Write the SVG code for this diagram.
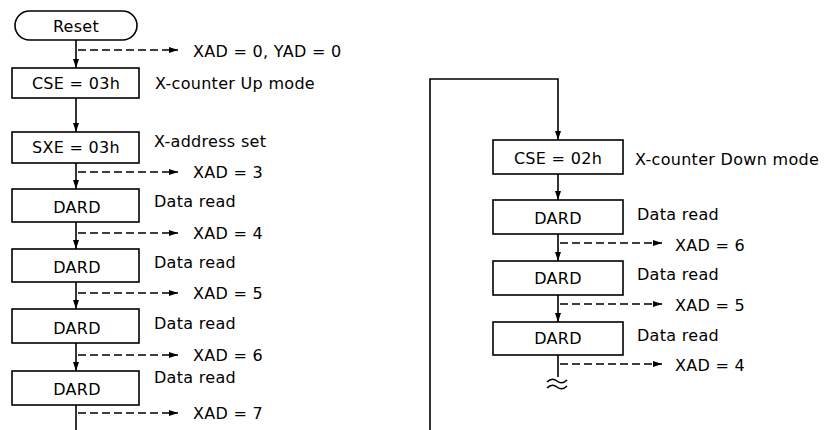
<svg xmlns="http://www.w3.org/2000/svg" width="825" height="430" viewBox="0 0 825 430">
<style>
  .box { fill: #fff; stroke: #000; stroke-width: 1.6; }
  .t { font-family: "DejaVu Sans", "Liberation Sans", sans-serif; font-size: 16px; letter-spacing: 0.3px; fill: #000; }
  .c { text-anchor: middle; }
  .ln { stroke: #000; stroke-width: 1.6; fill: none; }
  .da { stroke: #000; stroke-width: 1.4; fill: none; stroke-dasharray: 8 4; }
</style>
<defs>
  <marker id="ah" markerUnits="userSpaceOnUse" markerWidth="12" markerHeight="10" refX="9" refY="4" orient="auto">
    <path d="M0,1 L9,4 L0,7 Z" fill="#000"/>
  </marker>
</defs>
<rect width="825" height="430" fill="#fff"/>

<g id="connectors">
  <line class="ln" x1="76" y1="40" x2="76" y2="68" marker-end="url(#ah)"/>
  <line class="ln" x1="76" y1="98" x2="76" y2="132" marker-end="url(#ah)"/>
  <line class="ln" x1="76" y1="163" x2="76" y2="189" marker-end="url(#ah)"/>
  <line class="ln" x1="76" y1="222" x2="76" y2="249" marker-end="url(#ah)"/>
  <line class="ln" x1="76" y1="282" x2="76" y2="309" marker-end="url(#ah)"/>
  <line class="ln" x1="76" y1="343" x2="76" y2="371" marker-end="url(#ah)"/>
  <line class="ln" x1="76" y1="405" x2="76" y2="430"/>
  <line class="da" x1="78" y1="50" x2="178" y2="50" marker-end="url(#ah)"/>
  <line class="da" x1="78" y1="172" x2="178" y2="172" marker-end="url(#ah)"/>
  <line class="da" x1="78" y1="233" x2="178" y2="233" marker-end="url(#ah)"/>
  <line class="da" x1="78" y1="293" x2="178" y2="293" marker-end="url(#ah)"/>
  <line class="da" x1="78" y1="355" x2="178" y2="355" marker-end="url(#ah)"/>
  <line class="da" x1="78" y1="413" x2="178" y2="413" marker-end="url(#ah)"/>

  <path class="ln" d="M430,430 L430,79 L558,79 L558,140" marker-end="url(#ah)"/>
  <line class="ln" x1="558" y1="174" x2="558" y2="200" marker-end="url(#ah)"/>
  <line class="ln" x1="558" y1="234" x2="558" y2="261" marker-end="url(#ah)"/>
  <line class="ln" x1="558" y1="295" x2="558" y2="322" marker-end="url(#ah)"/>
  <line class="ln" x1="558" y1="355" x2="558" y2="377"/>
  <path class="ln" d="M547,382 Q552,377 557,381 T567,380" stroke-width="1.5"/>
  <path class="ln" d="M547,388 Q552,383 557,387 T567,386" stroke-width="1.5"/>
  <line class="da" x1="560" y1="243" x2="662" y2="243" marker-end="url(#ah)"/>
  <line class="da" x1="560" y1="304" x2="662" y2="304" marker-end="url(#ah)"/>
  <line class="da" x1="560" y1="364" x2="662" y2="364" marker-end="url(#ah)"/>
</g>

<g id="reset">
  <rect class="box" x="15" y="11" width="122" height="29" rx="14.5"/>
  <text class="t c" x="76" y="32">Reset</text>
</g>
<text class="t" x="193" y="57">XAD = 0, YAD = 0</text>

<g id="cse03">
  <rect class="box" x="12" y="68" width="127" height="30"/>
  <text class="t c" x="76" y="89">CSE = 03h</text>
  <text class="t" x="155" y="89">X-counter Up mode</text>
</g>

<g id="sxe03">
  <rect class="box" x="12" y="132" width="127" height="31"/>
  <text class="t c" x="76" y="153">SXE = 03h</text>
  <text class="t" x="154" y="147">X-address set</text>
</g>
<text class="t" x="193" y="178">XAD = 3</text>

<g id="dard1">
  <rect class="box" x="12" y="189" width="127" height="33"/>
  <text class="t c" x="77" y="213">DARD</text>
  <text class="t" x="154" y="207">Data read</text>
</g>
<text class="t" x="193" y="239">XAD = 4</text>

<g id="dard2">
  <rect class="box" x="12" y="249" width="127" height="33"/>
  <text class="t c" x="77" y="273">DARD</text>
  <text class="t" x="154" y="268">Data read</text>
</g>
<text class="t" x="193" y="299">XAD = 5</text>

<g id="dard3">
  <rect class="box" x="12" y="309" width="127" height="34"/>
  <text class="t c" x="77" y="334">DARD</text>
  <text class="t" x="154" y="329">Data read</text>
</g>
<text class="t" x="193" y="361">XAD = 6</text>

<g id="dard4">
  <rect class="box" x="12" y="371" width="127" height="34"/>
  <text class="t c" x="77" y="395">DARD</text>
  <text class="t" x="154" y="383">Data read</text>
</g>
<text class="t" x="193" y="419">XAD = 7</text>

<g id="cse02">
  <rect class="box" x="493" y="140" width="130" height="34"/>
  <text class="t c" x="558" y="164">CSE = 02h</text>
  <text class="t" x="635" y="165">X-counter Down mode</text>
</g>

<g id="dardR1">
  <rect class="box" x="493" y="200" width="130" height="34"/>
  <text class="t c" x="558" y="224">DARD</text>
  <text class="t" x="637" y="220">Data read</text>
</g>
<text class="t" x="675" y="251">XAD = 6</text>

<g id="dardR2">
  <rect class="box" x="493" y="261" width="130" height="34"/>
  <text class="t c" x="558" y="284">DARD</text>
  <text class="t" x="637" y="280">Data read</text>
</g>
<text class="t" x="675" y="311">XAD = 5</text>

<g id="dardR3">
  <rect class="box" x="493" y="322" width="130" height="33"/>
  <text class="t c" x="558" y="344">DARD</text>
  <text class="t" x="637" y="341">Data read</text>
</g>
<text class="t" x="675" y="371">XAD = 4</text>
</svg>
